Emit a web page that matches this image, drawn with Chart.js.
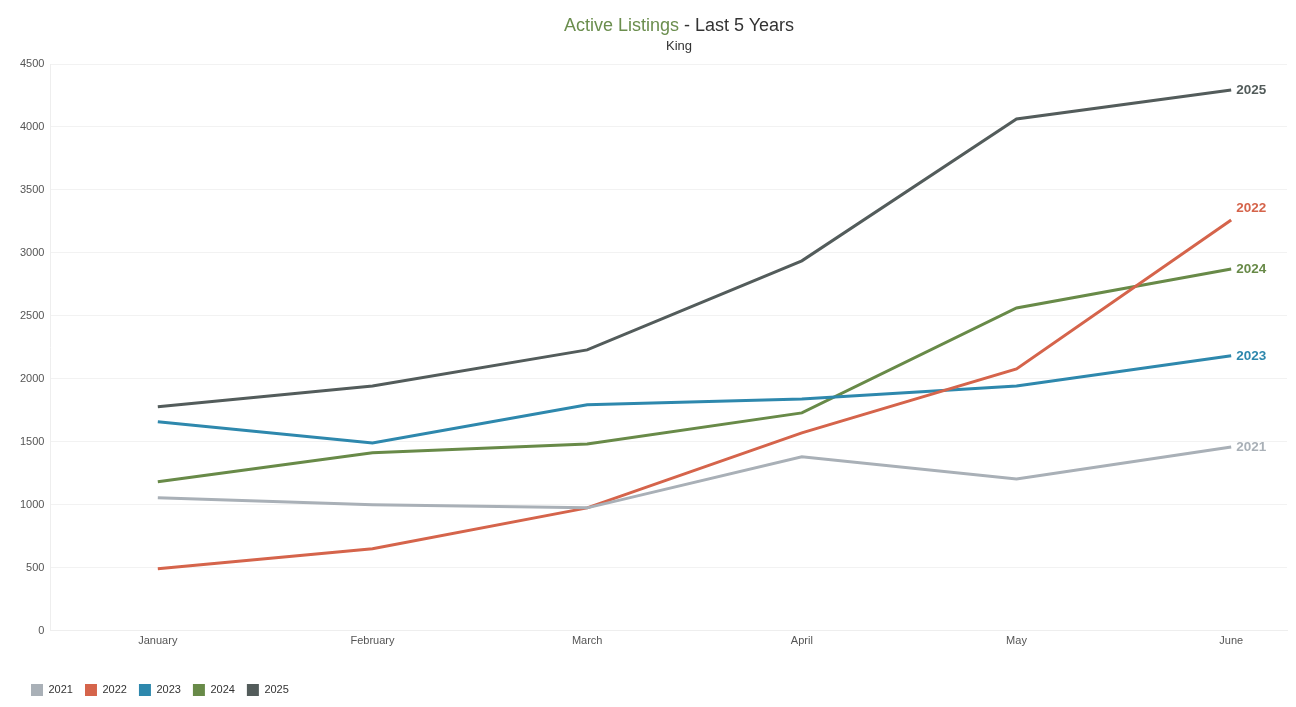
<!DOCTYPE html>
<html>
<head>
<meta charset="utf-8">
<script src="https://cdn.jsdelivr.net/npm/chart.js@4/dist/chart.umd.min.js"></script>
<style>
  html, body { margin: 0; padding: 0; background: #fff; }
  #wrap { position: relative; width: 1296px; height: 707px; }
  #title { position: absolute; left: 62px; top: 15px; width: 1234px; text-align: center;
           font-family: "Liberation Sans", Arial, sans-serif; font-size: 18px; color: #333; line-height: 20px; }
  #title .main { color: #6b8e4e; }
  #sub { position: absolute; left: 62px; top: 38px; width: 1234px; text-align: center;
         font-family: "Liberation Sans", Arial, sans-serif; font-size: 13px; color: #333; }
</style>
</head>
<body>
<div id="wrap">
  <canvas id="chart" width="1296" height="707"></canvas>
  <div id="title"><span class="main">Active Listings</span> - Last 5 Years</div>
  <div id="sub">King</div>
</div>
<script>
// months along the x axis
var months = ['January', 'February', 'March', 'April', 'May', 'June'];
var yTicks = [0, 500, 1000, 1500, 2000, 2500, 3000, 3500, 4000, 4500];

// active listings per year
var y2021 = [1056, 1000, 976, 1381, 1206, 1460];
var y2022 = [492, 651, 976, 1571, 2079, 3262];
var y2023 = [1659, 1492, 1794, 1841, 1944, 2183];
var y2024 = [1183, 1413, 1484, 1730, 2563, 2873];
var y2025 = [1778, 1944, 2230, 2937, 4063, 4294];

var series = [
    { label: '2021', data: y2021, color: '#a9b0b7' },
    { label: '2022', data: y2022, color: '#d5644b' },
    { label: '2023', data: y2023, color: '#2e88ad' },
    { label: '2024', data: y2024, color: '#688a48' },
    { label: '2025', data: y2025, color: '#535c5b' }
];

var endLabels = {
    id: 'endLabels',
    afterDatasetsDraw: function(chart) {
        var ctx = chart.ctx;
        ctx.save();
        ctx.font = 'bold 13.5px "Liberation Sans", Arial, sans-serif';
        ctx.textBaseline = 'middle';
        ctx.textAlign = 'left';
        chart.data.datasets.forEach(function(ds, i) {
            var meta = chart.getDatasetMeta(i);
            var last = meta.data[meta.data.length - 1];
            ctx.fillStyle = ds.borderColor;
            var dy = ds.label === '2022' ? -12 : 0;
            ctx.fillText(ds.label, last.x + 5, last.y + dy);
        });
        ctx.restore();
    }
};

new Chart(document.getElementById('chart').getContext('2d'), {
    type: 'line',
    data: {
        datasets: series.map(function(s) {
            return {
                label: s.label,
                data: s.data.map(function(v, i) { return { x: i, y: v }; }),
                borderColor: s.color,
                backgroundColor: s.color,
                borderWidth: 3,
                pointRadius: 0,
                pointHoverRadius: 0,
                tension: 0,
                fill: false
            };
        })
    },
    options: {
        responsive: false,
        animation: false,
        layout: {
            padding: { top: 64, left: 19, right: 9, bottom: 1 }
        },
        scales: {
            x: {
                type: 'linear',
                min: -0.5,
                max: 5.26,
                grid: { display: false, drawTicks: false },
                border: { color: '#eeeeee' },
                afterBuildTicks: function(axis) {
                    axis.ticks = months.map(function(m, i) { return { value: i }; });
                },
                afterFit: function(axis) {
                    axis.height += 20;
                },
                ticks: {
                    padding: 4,
                    color: '#555',
                    font: { size: 11, family: '"Liberation Sans", Arial, sans-serif' },
                    callback: function(v) { return months[v]; }
                }
            },
            y: {
                min: 0,
                max: 4500,
                afterBuildTicks: function(axis) {
                    axis.ticks = yTicks.map(function(v) { return { value: v }; });
                },
                afterFit: function(axis) {
                    axis.width -= 5;
                },
                grid: { color: '#f2f2f2', drawTicks: false },
                border: { color: '#eeeeee' },
                ticks: {
                    padding: 6,
                    color: '#555',
                    font: { size: 11, family: '"Liberation Sans", Arial, sans-serif' },
                    callback: function(v) { return String(v); }
                }
            }
        },
        plugins: {
            legend: {
                position: 'bottom',
                align: 'start',
                labels: {
                    boxWidth: 12,
                    boxHeight: 12,
                    padding: 12,
                    color: '#333',
                    font: { size: 11, family: '"Liberation Sans", Arial, sans-serif' },
                    generateLabels: function(chart) {
                        return chart.data.datasets.map(function(ds, i) {
                            return {
                                text: ds.label,
                                fillStyle: ds.borderColor,
                                strokeStyle: ds.borderColor,
                                lineWidth: 0,
                                fontColor: '#333',
                                datasetIndex: i
                            };
                        });
                    }
                }
            },
            tooltip: { enabled: false }
        }
    },
    plugins: [endLabels]
});
</script>
</body>
</html>
